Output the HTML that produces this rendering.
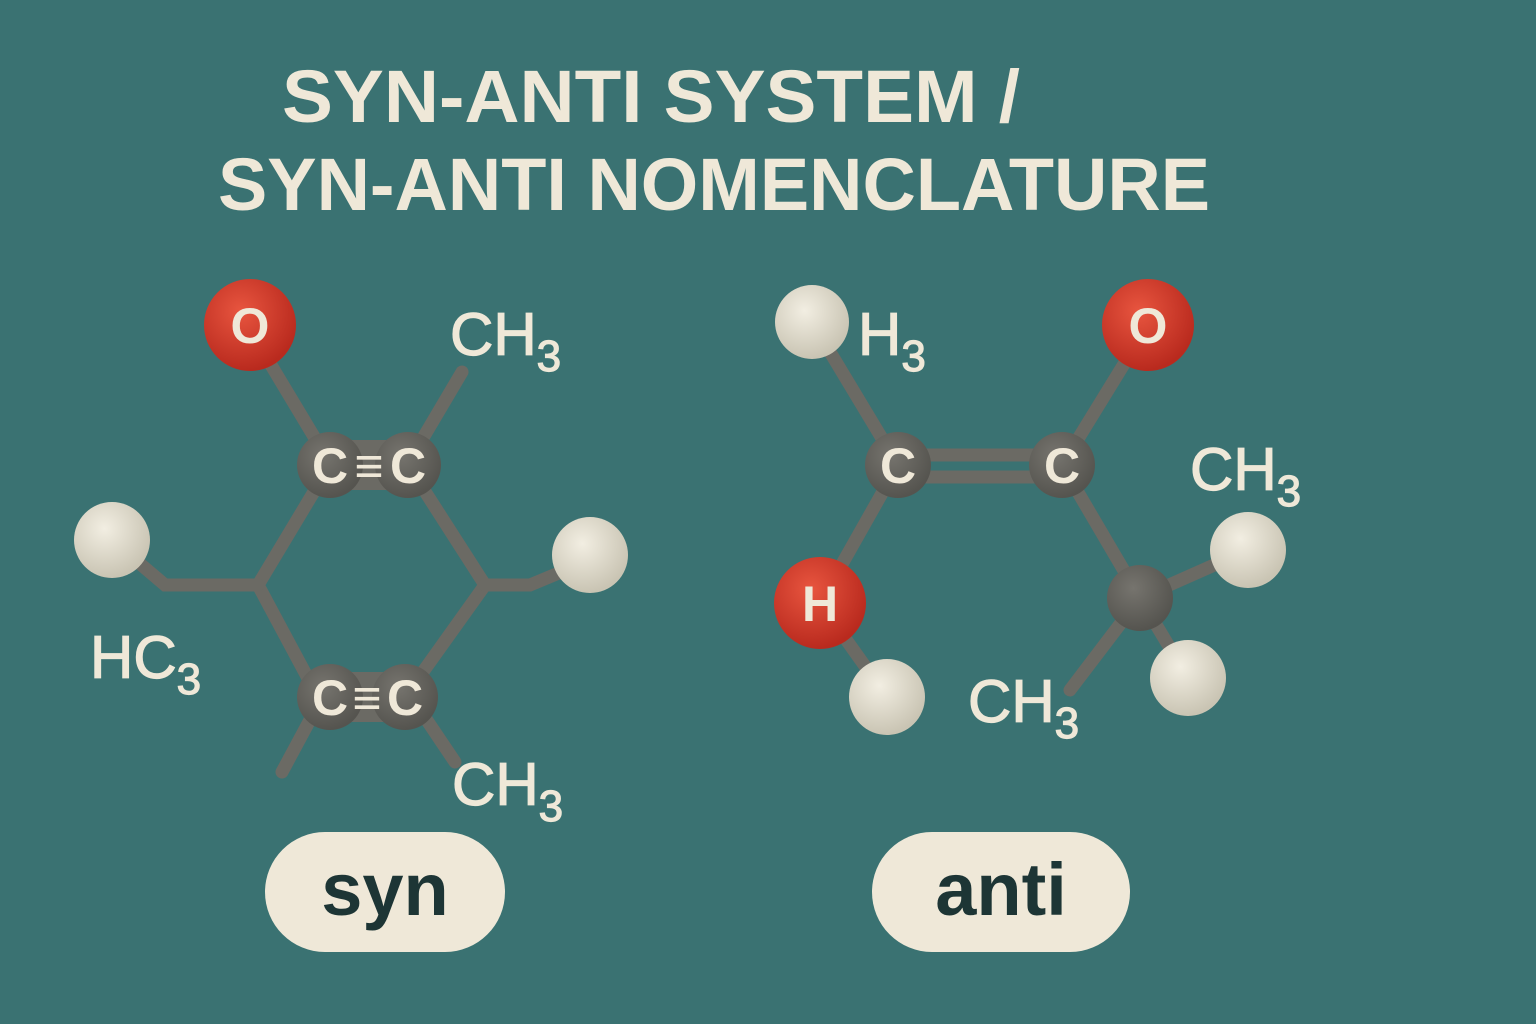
<!DOCTYPE html>
<html><head><style>
body{margin:0;background:#3a7272;}
svg{display:block}
</style></head><body>
<svg width="1536" height="1024" viewBox="0 0 1536 1024" xmlns="http://www.w3.org/2000/svg">
<defs>
<radialGradient id="red" cx="40%" cy="35%" r="65%"><stop offset="0" stop-color="#e8553f"/><stop offset="1" stop-color="#b92a1e"/></radialGradient>
<radialGradient id="wh" cx="40%" cy="35%" r="65%"><stop offset="0" stop-color="#f2eee2"/><stop offset="1" stop-color="#c9c4b3"/></radialGradient>
<radialGradient id="gr" cx="40%" cy="35%" r="65%"><stop offset="0" stop-color="#76746e"/><stop offset="1" stop-color="#55544f"/></radialGradient>
</defs>
<rect width="1536" height="1024" fill="#3a7272"/>
<g font-family="Liberation Sans, sans-serif" font-weight="bold" fill="#efe8d8" font-size="74">
<text x="282" y="122" textLength="738" lengthAdjust="spacingAndGlyphs">SYN-ANTI SYSTEM /</text>
<text x="218" y="210" textLength="992" lengthAdjust="spacingAndGlyphs">SYN-ANTI NOMENCLATURE</text>
</g>
<g stroke="#6b6a64" stroke-width="13" stroke-linecap="round" fill="none">
<line x1="250" y1="330" x2="328" y2="460"/>
<line x1="410" y1="460" x2="462" y2="372"/>
<polyline points="330,465 258,585 318,697"/>
<polyline points="408,465 485,585 405,697"/>
<polyline points="258,585 165,585 112,540"/>
<polyline points="485,585 530,585 590,560"/>
<line x1="318" y1="705" x2="282" y2="772"/>
<line x1="420" y1="710" x2="455" y2="762"/>
<line x1="812" y1="322" x2="898" y2="465"/>
<line x1="1148" y1="325" x2="1062" y2="465"/>
<line x1="898" y1="465" x2="820" y2="603"/>
<line x1="820" y1="603" x2="887" y2="697"/>
<line x1="1062" y1="465" x2="1140" y2="598"/>
<line x1="1140" y1="598" x2="1248" y2="550"/>
<line x1="1140" y1="598" x2="1188" y2="678"/>
<line x1="1140" y1="598" x2="1070" y2="690"/>
<line x1="898" y1="455" x2="1062" y2="455"/>
<line x1="898" y1="477" x2="1062" y2="477"/>
</g>
<rect x="320" y="440" width="100" height="50" fill="#6b6a64"/>
<circle cx="330" cy="465" r="33" fill="url(#gr)"/>
<circle cx="408" cy="465" r="33" fill="url(#gr)"/>
<rect x="320" y="672" width="95" height="50" fill="#6b6a64"/>
<circle cx="330" cy="697" r="33" fill="url(#gr)"/>
<circle cx="405" cy="697" r="33" fill="url(#gr)"/>
<circle cx="250" cy="325" r="46" fill="url(#red)"/>
<circle cx="112" cy="540" r="38" fill="url(#wh)"/>
<circle cx="590" cy="555" r="38" fill="url(#wh)"/>
<circle cx="898" cy="465" r="33" fill="url(#gr)"/>
<circle cx="1062" cy="465" r="33" fill="url(#gr)"/>
<circle cx="1148" cy="325" r="46" fill="url(#red)"/>
<circle cx="812" cy="322" r="37" fill="url(#wh)"/>
<circle cx="820" cy="603" r="46" fill="url(#red)"/>
<circle cx="887" cy="697" r="38" fill="url(#wh)"/>
<circle cx="1140" cy="598" r="33" fill="url(#gr)"/>
<circle cx="1248" cy="550" r="38" fill="url(#wh)"/>
<circle cx="1188" cy="678" r="38" fill="url(#wh)"/>
<g font-family="Liberation Sans, sans-serif" fill="#efe8d8" text-anchor="middle">
<g font-size="50" font-weight="bold">
<text x="250" y="343">O</text><text x="1148" y="343">O</text><text x="820" y="621">H</text>
<text x="330" y="483">C</text><text x="408" y="483">C</text><text x="369" y="483">≡</text>
<text x="330" y="715">C</text><text x="405" y="715">C</text><text x="367" y="715">≡</text>
<text x="898" y="483">C</text><text x="1062" y="483">C</text>
</g>
</g>
<g font-family="Liberation Sans, sans-serif" fill="#efe8d8" font-size="60" stroke="#efe8d8" stroke-width="1.2">
<text x="450" y="355">CH<tspan font-size="44" dy="16">3</tspan></text>
<text x="90" y="678">HC<tspan font-size="44" dy="16">3</tspan></text>
<text x="452" y="805">CH<tspan font-size="44" dy="16">3</tspan></text>
<text x="858" y="355">H<tspan font-size="44" dy="16">3</tspan></text>
<text x="1190" y="490">CH<tspan font-size="44" dy="16">3</tspan></text>
<text x="968" y="722">CH<tspan font-size="44" dy="16">3</tspan></text>
</g>
<rect x="265" y="832" width="240" height="120" rx="60" fill="#efe8d8"/>
<rect x="872" y="832" width="258" height="120" rx="60" fill="#efe8d8"/>
<g font-family="Liberation Sans, sans-serif" font-weight="bold" fill="#1d3535" font-size="74" text-anchor="middle">
<text x="385" y="915">syn</text>
<text x="1001" y="915">anti</text>
</g>
</svg>
</body></html>
